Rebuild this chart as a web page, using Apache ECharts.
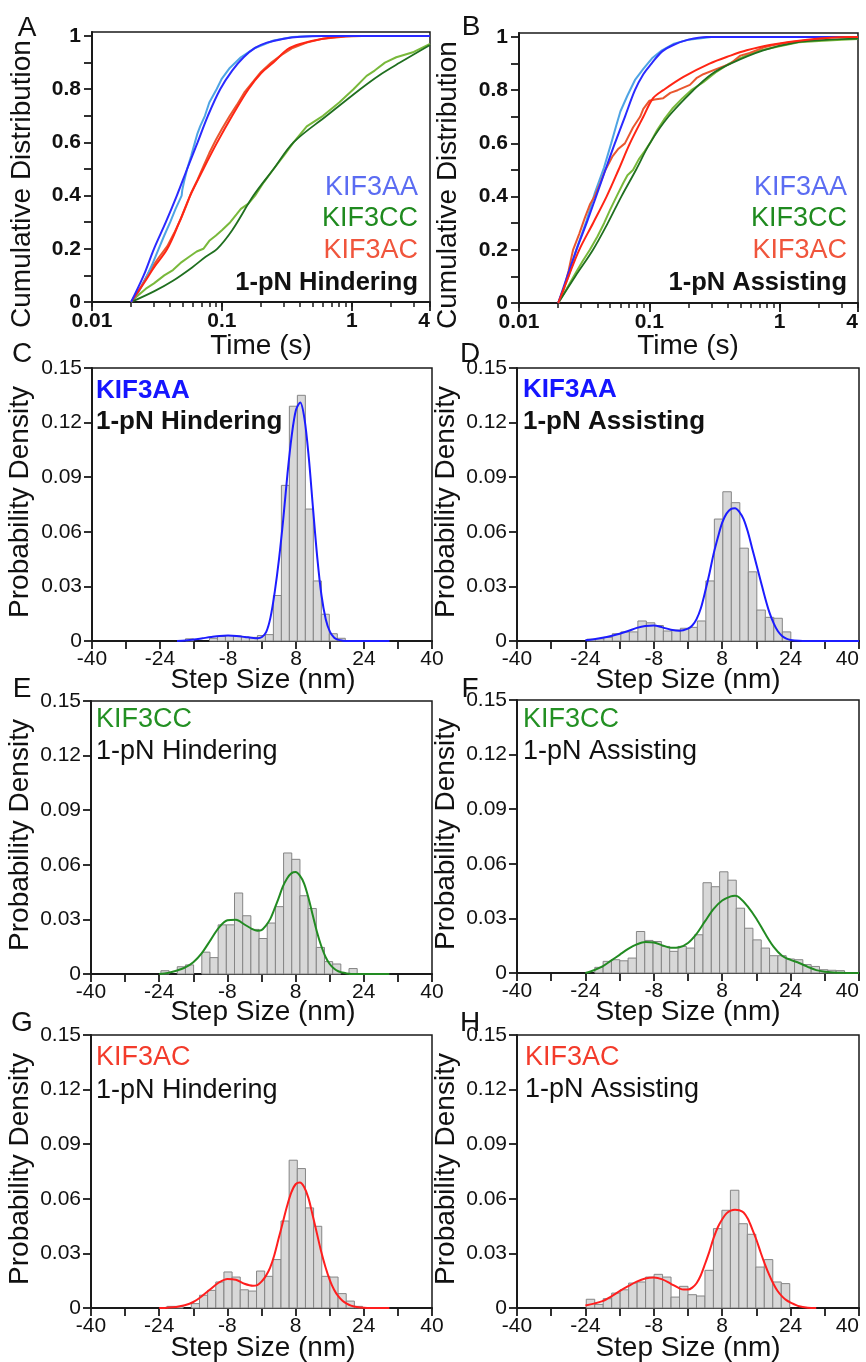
<!DOCTYPE html>
<html>
<head>
<meta charset="utf-8">
<script src="https://cdn.jsdelivr.net/npm/echarts@6/dist/echarts.min.js"></script>
<style>html,body{margin:0;padding:0;background:#fff;}#chart{width:866px;height:1362px;}</style>
</head>
<body>
<div id="chart"></div>
<script>
// ---------- Tick labels ----------
const cdfXLabels = [0.01, 0.1, 1, 4];
const cdfXMinorTicks = [0.01,0.02,0.03,0.04,0.05,0.06,0.07,0.08,0.09,0.1,0.2,0.3,0.4,0.5,0.6,0.7,0.8,0.9,1,2,3,4];
const cdfYLabels = [0, 0.2, 0.4, 0.6, 0.8, 1];
const cdfYTicks = [0,0.1,0.2,0.3,0.4,0.5,0.6,0.7,0.8,0.9,1];
const histXLabels = [-40, -24, -8, 8, 24, 40];

// ---------- Panel A: 1-pN Hindering, cumulative distributions [time (s), fraction] ----------
const aAAfit = [[0.02,0],[0.025,0.1],[0.03,0.2],[0.037,0.3],[0.045,0.4],[0.054,0.5],[0.065,0.6],[0.078,0.7],[0.097,0.8],[0.12,0.87],[0.147,0.92],[0.18,0.955],[0.222,0.975],[0.3,0.99],[0.4,0.997],[0.6,1],[4,1]];
const aAAdata = [[0.02,0],[0.023,0.04],[0.026,0.09],[0.029,0.14],[0.0326,0.2],[0.036,0.25],[0.04,0.3],[0.044,0.35],[0.049,0.4],[0.0495,0.42],[0.051,0.45],[0.054,0.5],[0.058,0.55],[0.062,0.6],[0.0645,0.63],[0.068,0.66],[0.074,0.7],[0.08,0.75],[0.091,0.8],[0.1,0.84],[0.115,0.88],[0.14,0.92],[0.18,0.955],[0.25,0.983],[0.35,0.996],[0.5,1],[4,1]];
const aACfit = [[0.02,0],[0.025,0.07],[0.03,0.13],[0.038,0.2],[0.047,0.3],[0.057,0.4],[0.072,0.5],[0.092,0.6],[0.12,0.7],[0.16,0.8],[0.2,0.86],[0.249,0.9],[0.32,0.95],[0.4,0.97],[0.6,0.99],[1,1],[4,1]];
const aACdata = [[0.02,0],[0.024,0.06],[0.028,0.12],[0.033,0.17],[0.038,0.21],[0.043,0.26],[0.048,0.31],[0.053,0.36],[0.058,0.41],[0.065,0.46],[0.072,0.51],[0.08,0.56],[0.09,0.61],[0.1,0.65],[0.115,0.7],[0.13,0.74],[0.15,0.79],[0.175,0.83],[0.2,0.865],[0.24,0.9],[0.29,0.93],[0.35,0.955],[0.45,0.975],[0.6,0.99],[0.9,0.998],[1.2,1],[4,1]];
const aCCfit = [[0.02,0],[0.03,0.04],[0.042,0.08],[0.059,0.13],[0.075,0.17],[0.092,0.2],[0.12,0.27],[0.175,0.4],[0.25,0.5],[0.356,0.6],[0.64,0.7],[1.16,0.8],[1.6,0.85],[2.35,0.9],[4,0.966]];
const aCCdata = [[0.02,0],[0.022,0.02],[0.026,0.05],[0.03,0.07],[0.036,0.1],[0.042,0.12],[0.049,0.15],[0.056,0.17],[0.064,0.19],[0.072,0.2],[0.08,0.23],[0.09,0.25],[0.1,0.27],[0.116,0.3],[0.13,0.33],[0.14,0.35],[0.16,0.37],[0.18,0.4],[0.21,0.45],[0.25,0.5],[0.3,0.55],[0.356,0.6],[0.45,0.66],[0.6,0.7],[0.8,0.75],[1.03,0.8],[1.3,0.85],[1.5,0.87],[1.8,0.9],[2.2,0.92],[3,0.94],[4,0.97]];

// ---------- Panel B: 1-pN Assisting ----------
const bAAfit = [[0.02,0],[0.0276,0.2],[0.033,0.3],[0.039,0.4],[0.046,0.5],[0.0544,0.6],[0.065,0.7],[0.0776,0.8],[0.09,0.86],[0.104,0.9],[0.125,0.945],[0.153,0.97],[0.2,0.99],[0.275,1],[4,1]];
const bAAdata = [[0.02,0],[0.024,0.1],[0.0275,0.2],[0.033,0.31],[0.038,0.41],[0.045,0.51],[0.051,0.6],[0.056,0.67],[0.06,0.72],[0.068,0.78],[0.078,0.84],[0.09,0.88],[0.105,0.92],[0.125,0.95],[0.155,0.975],[0.2,0.99],[0.3,1],[4,1]];
const bACfit = [[0.02,0],[0.024,0.1],[0.029,0.2],[0.037,0.3],[0.047,0.4],[0.058,0.5],[0.071,0.6],[0.09,0.7],[0.107,0.77],[0.128,0.8],[0.183,0.85],[0.29,0.9],[0.42,0.93],[0.56,0.95],[0.84,0.97],[1.63,0.99],[3.3,1],[4,1]];
const bACdata = [[0.02,0],[0.022,0.05],[0.024,0.12],[0.026,0.2],[0.029,0.26],[0.032,0.32],[0.035,0.37],[0.038,0.4],[0.042,0.45],[0.046,0.5],[0.052,0.55],[0.058,0.58],[0.065,0.6],[0.075,0.66],[0.085,0.7],[0.09,0.73],[0.1,0.76],[0.11,0.765],[0.128,0.77],[0.145,0.79],[0.165,0.8],[0.205,0.82],[0.23,0.845],[0.26,0.86],[0.33,0.88],[0.42,0.9],[0.5,0.93],[0.59,0.94],[0.75,0.96],[0.9,0.97],[1.2,0.98],[1.8,0.99],[2.5,1],[4,1]];
const bCCfit = [[0.02,0],[0.027,0.1],[0.037,0.2],[0.048,0.3],[0.061,0.4],[0.079,0.5],[0.101,0.6],[0.14,0.7],[0.218,0.8],[0.3,0.86],[0.42,0.9],[0.75,0.95],[1.35,0.98],[2.4,0.99],[4,0.994]];
const bCCdata = [[0.02,0],[0.023,0.05],[0.027,0.11],[0.031,0.16],[0.035,0.2],[0.04,0.25],[0.045,0.3],[0.05,0.35],[0.056,0.4],[0.063,0.45],[0.068,0.48],[0.075,0.5],[0.083,0.54],[0.092,0.57],[0.101,0.6],[0.115,0.65],[0.13,0.69],[0.15,0.73],[0.18,0.77],[0.21,0.8],[0.26,0.83],[0.33,0.87],[0.41,0.9],[0.55,0.93],[0.72,0.95],[1.0,0.965],[1.4,0.98],[2,0.985],[3,0.99],[4,0.992]];

// ---------- Histograms: bin range (nm), probability densities, fitted curve [nm, density] ----------
const cRange = [-18.0, 19.6];
const cCounts = [0.0012,0,0,0.0015,0.0025,0.003,0.0028,0.0022,0.002,0.003,0.0035,0.025,0.0855,0.129,0.135,0.0725,0.033,0.0147,0.004,0.0015];
const cCurve = [[-20,0],[-18,0.0003],[-16,0.0008],[-14,0.0015],[-12,0.0022],[-10,0.0028],[-8,0.003],[-6,0.0028],[-4,0.0022],[-2,0.0016],[-1,0.0015],[0,0.0022],[1,0.005],[2,0.013],[3,0.027],[4,0.045],[5,0.067],[6,0.092],[7,0.113],[8,0.127],[9,0.131],[10,0.122],[11,0.101],[12,0.073],[13,0.046],[14,0.025],[15,0.012],[16,0.005],[17,0.0018],[18,0.0006],[19,0.0002],[20,0],[22,0],[24,0],[26,0],[28,0],[30,0]];

const dRange = [-23.65, 24.05];
const dCounts = [0.001,0.0012,0.002,0.004,0.005,0.005,0.011,0.010,0.0085,0.0055,0.006,0.007,0.0075,0.011,0.033,0.067,0.082,0.076,0.051,0.038,0.017,0.013,0.0125,0.005];
const dCurve = [[-24,0.0004],[-22,0.001],[-20,0.0018],[-18,0.0028],[-16,0.004],[-14,0.0055],[-12,0.0072],[-10,0.0083],[-8,0.0085],[-6,0.0075],[-4,0.0062],[-2,0.0056],[0,0.0068],[1,0.0085],[2,0.012],[3,0.018],[4,0.027],[5,0.037],[6,0.048],[7,0.057],[8,0.065],[9,0.07],[10,0.0725],[11,0.073],[12,0.071],[13,0.067],[14,0.06],[15,0.051],[16,0.042],[17,0.033],[18,0.024],[19,0.016],[20,0.01],[21,0.0055],[22,0.0028],[23,0.0013],[24,0.0006],[26,0.0001],[28,0],[30,0],[32,0],[34,0],[36,0],[38,0],[40,0]];

const eRange = [-23.6, 22.45];
const eCounts = [0.0018,0,0.004,0.005,0,0.012,0.009,0.027,0.027,0.0445,0.032,0.0245,0.0195,0.028,0.037,0.0665,0.063,0.043,0.036,0.0146,0.0068,0.0055,0,0.003];
const eCurve = [[-24,0],[-22,0.0006],[-20,0.0018],[-18,0.0035],[-16,0.0065],[-14,0.0115],[-12,0.0185],[-10,0.0255],[-8,0.0295],[-6,0.0298],[-4,0.0272],[-2,0.0245],[-1,0.0238],[0,0.0241],[1,0.0265],[2,0.03],[3,0.0355],[4,0.0415],[5,0.048],[6,0.0525],[7,0.0553],[8,0.056],[9,0.054],[10,0.0497],[11,0.042],[12,0.0325],[13,0.0232],[14,0.0155],[15,0.0095],[16,0.0055],[17,0.003],[18,0.0015],[19,0.0008],[20,0.0003],[22,0],[24,0],[26,0],[28,0],[30,0]];

const fRange = [-21.8, 36.6];
const fCounts = [0.0031,0.0064,0.0073,0.0067,0.0082,0.0228,0.0179,0.0173,0.0146,0.0119,0.0146,0.0137,0.021,0.0496,0.0474,0.0556,0.051,0.0356,0.0246,0.0182,0.0137,0.0095,0.0095,0.0077,0.0073,0.0046,0.0036,0.0018,0.0015,0.0013];
const fCurve = [[-24,0],[-22,0.0015],[-20,0.0036],[-18,0.0068],[-16,0.01],[-14,0.0132],[-12,0.0157],[-10,0.0171],[-8,0.0168],[-6,0.0152],[-4,0.0139],[-2,0.0142],[0,0.0165],[2,0.0215],[4,0.0285],[6,0.0352],[8,0.0398],[10,0.0421],[11,0.0424],[12,0.0415],[14,0.0365],[16,0.0298],[18,0.0218],[20,0.0145],[22,0.0095],[24,0.0072],[26,0.0055],[28,0.0034],[30,0.0016],[32,0.0007],[34,0.0003],[36,0.0001],[38,0],[40,0]];

const gRange = [-22.2, 23.7];
const gCounts = [0.0009,0.0009,0,0.0024,0.007,0.0097,0.0143,0.0198,0.017,0.010,0.0093,0.0203,0.0174,0.0266,0.0478,0.0812,0.0766,0.055,0.0449,0.0174,0.017,0.0079,0.0038,0.0009];
const gCurve = [[-24,0],[-22,0.0002],[-20,0.0006],[-18,0.0015],[-16,0.0033],[-14,0.0065],[-12,0.0103],[-10,0.014],[-8,0.016],[-6,0.0155],[-4,0.0133],[-2,0.0122],[-1,0.0126],[0,0.0145],[1,0.0175],[2,0.022],[3,0.029],[4,0.038],[5,0.047],[6,0.056],[7,0.0635],[8,0.068],[9,0.069],[10,0.0665],[11,0.0605],[12,0.051],[13,0.041],[14,0.031],[15,0.0225],[16,0.0155],[17,0.0102],[18,0.0065],[19,0.004],[20,0.0024],[21,0.0013],[22,0.0007],[24,0.0001],[26,0],[28,0],[30,0]];

const hRange = [-23.8, 23.8];
const hCounts = [0.0048,0.002,0.0051,0.0082,0.010,0.0137,0.0143,0.017,0.0185,0.017,0.006,0.0119,0.0073,0.0066,0.0207,0.0436,0.0537,0.0647,0.0463,0.0405,0.0225,0.0266,0.0143,0.0134];
const hCurve = [[-24,0.0014],[-22,0.0024],[-20,0.0038],[-18,0.0063],[-16,0.0093],[-14,0.012],[-12,0.0145],[-10,0.0162],[-8,0.0167],[-6,0.0157],[-4,0.0133],[-2,0.0108],[-1,0.0101],[0,0.0101],[1,0.0112],[2,0.0136],[3,0.018],[4,0.0243],[5,0.031],[6,0.0385],[7,0.0445],[8,0.0488],[9,0.052],[10,0.0535],[11,0.054],[12,0.0537],[13,0.0525],[14,0.049],[15,0.0435],[16,0.0375],[17,0.0305],[18,0.024],[19,0.0182],[20,0.0132],[21,0.0092],[22,0.0064],[23,0.0043],[24,0.003],[26,0.001],[28,0.0002],[30,0]];

// ---------- Layout / styling ----------
const FONT = '"Liberation Sans", Arial, Helvetica, sans-serif';
const AX = '#1a1a1a';
const grids = [
  {left:92,  top:32,   width:338, height:270}, // A
  {left:519, top:33,   width:339, height:270}, // B
  {left:92,  top:368,  width:340, height:273}, // C
  {left:517, top:368,  width:342, height:273}, // D
  {left:91,  top:701,  width:341, height:273}, // E
  {left:517, top:700,  width:342, height:273}, // F
  {left:91,  top:1035, width:341, height:273}, // G
  {left:517, top:1035, width:342, height:273}  // H
].map(g => Object.assign({show:true, borderColor:AX, borderWidth:1.5, backgroundColor:'transparent', containLabel:false, outerBoundsMode:'none'}, g));

const tickLabelStyle = (size, weight) => ({color:'#111', fontFamily:FONT, fontSize:size, fontWeight:weight||'normal'});
const fmtNum = v => String(+(+v).toPrecision(3));

const xAxes = [], yAxes = [];
[0,1].forEach(g => {
  xAxes.push({gridIndex:g, type:'log', logBase:10, min:0.01, max:4, position:'bottom',
    axisLine:{show:true, onZero:false, lineStyle:{color:AX, width:2}},
    axisTick:{show:true, customValues:cdfXMinorTicks, length:5, lineStyle:{color:AX, width:1.5}},
    axisLabel:{show:false}, splitLine:{show:false}, minorTick:{show:false}});
});
for (let g = 2; g < 8; g++) {
  xAxes.push({gridIndex:g, type:'value', min:-40, max:40, interval:8, position:'bottom',
    axisLine:{show:true, onZero:false, lineStyle:{color:AX, width:2}},
    axisTick:{show:true, length:8, lineStyle:{color:AX, width:1.8}},
    axisLabel:Object.assign({customValues:histXLabels, margin:8, alignMaxLabel:(g % 2 === 1 ? 'right' : null)}, tickLabelStyle(21)),
    splitLine:{show:false}});
}
[0,1].forEach(g => {
  xAxes.push({gridIndex:g, type:'log', logBase:10, min:0.01, max:4, position:'bottom',
    axisLine:{show:false},
    axisTick:{show:true, customValues:cdfXLabels, length:9, lineStyle:{color:AX, width:1.8}},
    axisLabel:Object.assign({customValues:cdfXLabels, margin:9, formatter:fmtNum, alignMaxLabel:'right'}, tickLabelStyle(21,'bold')),
    splitLine:{show:false}});
});
[0,1].forEach(g => {
  yAxes.push({gridIndex:g, type:'value', min:0, max:1.015,
    axisLine:{show:true, onZero:false, lineStyle:{color:AX, width:2}},
    axisTick:{show:true, customValues:cdfYTicks, length:8, lineStyle:{color:AX, width:1.8}},
    axisLabel:Object.assign({customValues:cdfYLabels, margin:11, formatter:fmtNum}, tickLabelStyle(21,'bold')),
    splitLine:{show:false}});
});
for (let g = 2; g < 8; g++) {
  yAxes.push({gridIndex:g, type:'value', min:0, max:0.15, interval:0.03,
    axisLine:{show:true, onZero:false, lineStyle:{color:AX, width:2}},
    axisTick:{show:true, length:8, lineStyle:{color:AX, width:1.8}},
    axisLabel:Object.assign({margin:10, formatter:fmtNum}, tickLabelStyle(21)),
    splitLine:{show:false}});
}

const series = [];
function cdfLine(g, data, color, width, smooth, z) {
  series.push({type:'line', xAxisIndex:g, yAxisIndex:g, data:data, showSymbol:false, symbol:'none',
    smooth:smooth, lineStyle:{color:color, width:width}, z:z, silent:true, animation:false});
}
cdfLine(0, aCCdata, '#79b93b', 2, false, 3);
cdfLine(0, aCCfit,  '#1f6f1f', 1.8, 0.35, 4);
cdfLine(0, aACdata, '#e9572f', 2, false, 3);
cdfLine(0, aACfit,  '#ff2514', 2, 0.35, 4);
cdfLine(0, aAAdata, '#4ea4e4', 2, false, 3);
cdfLine(0, aAAfit,  '#2a2aff', 2, 0.35, 4);
cdfLine(1, bCCdata, '#79b93b', 2, false, 3);
cdfLine(1, bCCfit,  '#1f6f1f', 1.8, 0.35, 4);
cdfLine(1, bAAdata, '#4ea4e4', 2, false, 3);
cdfLine(1, bAAfit,  '#2a2aff', 2, 0.35, 4);
cdfLine(1, bACdata, '#e9572f', 2, false, 3);
cdfLine(1, bACfit,  '#ff2514', 2, 0.35, 4);

const hists = [
  {g:2, range:cRange, counts:cCounts, curve:cCurve, color:'#1c1cff'},
  {g:3, range:dRange, counts:dCounts, curve:dCurve, color:'#1c1cff'},
  {g:4, range:eRange, counts:eCounts, curve:eCurve, color:'#228b22'},
  {g:5, range:fRange, counts:fCounts, curve:fCurve, color:'#228b22'},
  {g:6, range:gRange, counts:gCounts, curve:gCurve, color:'#ff1e1e'},
  {g:7, range:hRange, counts:hCounts, curve:hCurve, color:'#ff1e1e'}
];
hists.forEach(h => {
  const w = (h.range[1] - h.range[0]) / h.counts.length;
  const bins = h.counts.map((v, i) => [h.range[0] + i*w, h.range[0] + (i+1)*w, v]);
  series.push({type:'custom', xAxisIndex:h.g, yAxisIndex:h.g, data:bins, z:2, silent:true, animation:false,
    renderItem:(params, api) => {
      const y = api.value(2);
      if (!(y > 0)) return null;
      const p0 = api.coord([api.value(0), y]);
      const p1 = api.coord([api.value(1), 0]);
      return {type:'rect', shape:{x:p0[0], y:p0[1], width:p1[0]-p0[0], height:p1[1]-p0[1]},
        style:{fill:'#d8d8d8', stroke:'#858585', lineWidth:1}};
    }});
  series.push({type:'line', xAxisIndex:h.g, yAxisIndex:h.g, data:h.curve, showSymbol:false, symbol:'none',
    smooth:0.3, lineStyle:{color:h.color, width:2}, z:5, silent:true, animation:false});
});

// ---------- Text ----------
function txt(x, y, text, size, color, align, weight, rot) {
  return {type:'text', x:x, y:y, rotation:rot||0, z:100, silent:true,
    style:{text:text, fill:color||'#111', font:(weight||'normal')+' '+size+'px '+FONT,
      textAlign:align||'left', textVerticalAlign:'middle'}};
}
const R = Math.PI/2;
const graphics = [
  txt(27,28,'A',28,'#111','center'), txt(471,27,'B',28,'#111','center'),
  txt(22,354,'C',28,'#111','center'), txt(470,354,'D',28,'#111','center'),
  txt(22,689,'E',28,'#111','center'), txt(470,689,'F',28,'#111','center'),
  txt(22,1023,'G',28,'#111','center'), txt(470,1023,'H',28,'#111','center'),
  txt(22,184,'Cumulative Distribution',28,'#111','center','normal',R),
  txt(448,185,'Cumulative Distribution',28,'#111','center','normal',R),
  txt(261,346,'Time (s)',28,'#111','center'), txt(688,346,'Time (s)',28,'#111','center'),
  txt(20,502,'Probability Density',28,'#111','center','normal',R),
  txt(446,502,'Probability Density',28,'#111','center','normal',R),
  txt(20,835,'Probability Density',28,'#111','center','normal',R),
  txt(446,834,'Probability Density',28,'#111','center','normal',R),
  txt(20,1169,'Probability Density',28,'#111','center','normal',R),
  txt(446,1169,'Probability Density',28,'#111','center','normal',R),
  txt(263,680,'Step Size (nm)',28,'#111','center'), txt(688,680,'Step Size (nm)',28,'#111','center'),
  txt(263,1012,'Step Size (nm)',28,'#111','center'), txt(688,1012,'Step Size (nm)',28,'#111','center'),
  txt(263,1348,'Step Size (nm)',28,'#111','center'), txt(688,1348,'Step Size (nm)',28,'#111','center'),
  txt(418,188,'KIF3AA',27,'#5b6cf2','right'), txt(418,219,'KIF3CC',27,'#1f8a1f','right'),
  txt(418,251,'KIF3AC',27,'#f0553c','right'), txt(418,283,'1-pN Hindering',25.5,'#111','right','bold'),
  txt(847,188,'KIF3AA',27,'#5b6cf2','right'), txt(847,219,'KIF3CC',27,'#1f8a1f','right'),
  txt(847,251,'KIF3AC',27,'#f0553c','right'), txt(847,283,'1-pN Assisting',25.5,'#111','right','bold'),
  txt(96,391,'KIF3AA',26,'#1515ff','left','bold'), txt(96,422,'1-pN Hindering',26,'#111','left','bold'),
  txt(523,390,'KIF3AA',26,'#1515ff','left','bold'), txt(523,422,'1-pN Assisting',26,'#111','left','bold'),
  txt(96,720,'KIF3CC',27,'#239023','left'), txt(96,752,'1-pN Hindering',27,'#111','left'),
  txt(523,720,'KIF3CC',27,'#239023','left'), txt(523,752,'1-pN Assisting',27,'#111','left'),
  txt(96,1058,'KIF3AC',27,'#f33b2b','left'), txt(96,1091,'1-pN Hindering',27,'#111','left'),
  txt(525,1058,'KIF3AC',27,'#f33b2b','left'), txt(525,1090,'1-pN Assisting',27,'#111','left')
];

const chart = echarts.init(document.getElementById('chart'), null, {renderer:'canvas'});
chart.setOption({
  backgroundColor:'#ffffff',
  animation:false,
  grid:grids, xAxis:xAxes, yAxis:yAxes, series:series,
  graphic:graphics
});
</script>
</body>
</html>
